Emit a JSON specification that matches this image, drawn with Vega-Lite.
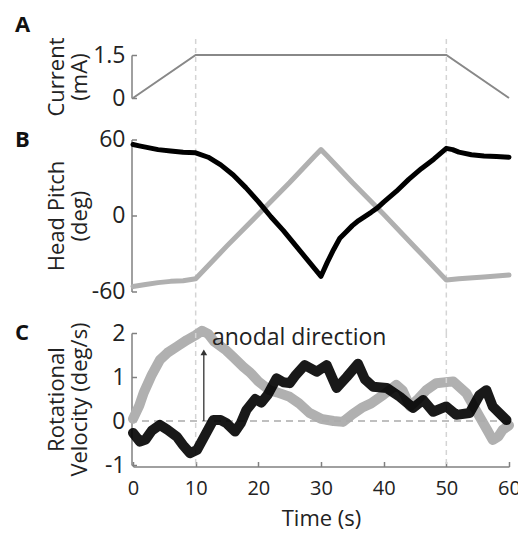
{
  "$schema": "https://vega.github.io/schema/vega-lite/v6.json",
  "padding": {"left": 15, "top": 13, "right": 5, "bottom": 8},
  "spacing": 41.5,
  "bounds": "flush",
  "config": {
    "view": {"stroke": null},
    "font": "Open Sans",
    "axis": {
      "domain": true, "ticks": true, "domainColor": "#808080", "tickColor": "#808080", "domainWidth": 1.5, "tickWidth": 1.5, "tickSize": -5, "offset": 1.5,
      "labelColor": "#222", "titleColor": "#222", "labelFont": "Open Sans", "titleFont": "Open Sans",
      "labelFontSize": 23, "titleFontSize": 22, "titleFontWeight": "normal",
      "grid": false, "labelFlush": false, "labelOverlap": false, "zindex": 2
    },
    "title": {"font": "Open Sans", "fontSize": 22, "fontWeight": "bold", "color": "#111", "anchor": "start", "frame": "group", "dx": -118}
  },
  "datasets": {
    "marks": [{"t": 10}, {"t": 50}],
    "current": [
      {"t": 0, "mA": 0}, {"t": 10, "mA": 1.5}, {"t": 50, "mA": 1.5}, {"t": 60, "mA": 0}
    ],
    "pitch": [
      {"series": "Cathodal", "t": 0, "deg": 56}, {"series": "Cathodal", "t": 1, "deg": 55}, {"series": "Cathodal", "t": 2, "deg": 54},
      {"series": "Cathodal", "t": 4, "deg": 52}, {"series": "Cathodal", "t": 6, "deg": 51}, {"series": "Cathodal", "t": 8, "deg": 50},
      {"series": "Cathodal", "t": 10, "deg": 49.5}, {"series": "Cathodal", "t": 12, "deg": 46}, {"series": "Cathodal", "t": 14, "deg": 40},
      {"series": "Cathodal", "t": 16, "deg": 32}, {"series": "Cathodal", "t": 18, "deg": 22}, {"series": "Cathodal", "t": 20, "deg": 11},
      {"series": "Cathodal", "t": 21, "deg": 5}, {"series": "Cathodal", "t": 22, "deg": -1}, {"series": "Cathodal", "t": 24, "deg": -12},
      {"series": "Cathodal", "t": 26, "deg": -24}, {"series": "Cathodal", "t": 28, "deg": -36}, {"series": "Cathodal", "t": 30, "deg": -48},
      {"series": "Cathodal", "t": 31, "deg": -37}, {"series": "Cathodal", "t": 32, "deg": -27}, {"series": "Cathodal", "t": 33, "deg": -18},
      {"series": "Cathodal", "t": 34, "deg": -13}, {"series": "Cathodal", "t": 35, "deg": -8}, {"series": "Cathodal", "t": 36, "deg": -4},
      {"series": "Cathodal", "t": 38, "deg": 2.5}, {"series": "Cathodal", "t": 39, "deg": 6}, {"series": "Cathodal", "t": 40, "deg": 10.5},
      {"series": "Cathodal", "t": 42, "deg": 19}, {"series": "Cathodal", "t": 44, "deg": 28.5}, {"series": "Cathodal", "t": 46, "deg": 37},
      {"series": "Cathodal", "t": 48, "deg": 44.5}, {"series": "Cathodal", "t": 50, "deg": 53}, {"series": "Cathodal", "t": 51, "deg": 52},
      {"series": "Cathodal", "t": 52, "deg": 50}, {"series": "Cathodal", "t": 54, "deg": 48}, {"series": "Cathodal", "t": 56, "deg": 47},
      {"series": "Cathodal", "t": 58, "deg": 46.5}, {"series": "Cathodal", "t": 60, "deg": 46},
      {"series": "Anodal", "t": 0, "deg": -56}, {"series": "Anodal", "t": 2, "deg": -54.5}, {"series": "Anodal", "t": 4, "deg": -53},
      {"series": "Anodal", "t": 6, "deg": -52}, {"series": "Anodal", "t": 8, "deg": -51.5}, {"series": "Anodal", "t": 10, "deg": -50},
      {"series": "Anodal", "t": 15, "deg": -24}, {"series": "Anodal", "t": 20, "deg": 1}, {"series": "Anodal", "t": 25, "deg": 26},
      {"series": "Anodal", "t": 29, "deg": 47}, {"series": "Anodal", "t": 30, "deg": 52}, {"series": "Anodal", "t": 31, "deg": 47},
      {"series": "Anodal", "t": 35, "deg": 26}, {"series": "Anodal", "t": 40, "deg": 1}, {"series": "Anodal", "t": 45, "deg": -25},
      {"series": "Anodal", "t": 50, "deg": -51}, {"series": "Anodal", "t": 52, "deg": -50}, {"series": "Anodal", "t": 56, "deg": -48.5},
      {"series": "Anodal", "t": 60, "deg": -47}
    ],
    "velocity": [
      {"series": "Anodal", "t": 0, "v": 0.05}, {"series": "Anodal", "t": 1, "v": 0.35}, {"series": "Anodal", "t": 1.7, "v": 0.64},
      {"series": "Anodal", "t": 3, "v": 1.05}, {"series": "Anodal", "t": 4.3, "v": 1.39}, {"series": "Anodal", "t": 5.5, "v": 1.55},
      {"series": "Anodal", "t": 7, "v": 1.69}, {"series": "Anodal", "t": 8.6, "v": 1.84}, {"series": "Anodal", "t": 10, "v": 1.95},
      {"series": "Anodal", "t": 11, "v": 2.05}, {"series": "Anodal", "t": 12, "v": 1.98}, {"series": "Anodal", "t": 13, "v": 1.8},
      {"series": "Anodal", "t": 14.9, "v": 1.6}, {"series": "Anodal", "t": 16, "v": 1.45}, {"series": "Anodal", "t": 17.6, "v": 1.23},
      {"series": "Anodal", "t": 18.7, "v": 1.1}, {"series": "Anodal", "t": 20, "v": 0.9}, {"series": "Anodal", "t": 21.8, "v": 0.7},
      {"series": "Anodal", "t": 23, "v": 0.65}, {"series": "Anodal", "t": 25, "v": 0.55}, {"series": "Anodal", "t": 26.5, "v": 0.4},
      {"series": "Anodal", "t": 28.2, "v": 0.18}, {"series": "Anodal", "t": 30, "v": 0.05}, {"series": "Anodal", "t": 32, "v": 0.0},
      {"series": "Anodal", "t": 33.5, "v": -0.02}, {"series": "Anodal", "t": 35, "v": 0.15}, {"series": "Anodal", "t": 36.5, "v": 0.3},
      {"series": "Anodal", "t": 38, "v": 0.4}, {"series": "Anodal", "t": 40, "v": 0.6}, {"series": "Anodal", "t": 42, "v": 0.82},
      {"series": "Anodal", "t": 43, "v": 0.7}, {"series": "Anodal", "t": 44.2, "v": 0.33}, {"series": "Anodal", "t": 45.5, "v": 0.5},
      {"series": "Anodal", "t": 46.8, "v": 0.7}, {"series": "Anodal", "t": 48.4, "v": 0.86}, {"series": "Anodal", "t": 51.1, "v": 0.9},
      {"series": "Anodal", "t": 53.2, "v": 0.63}, {"series": "Anodal", "t": 55.3, "v": 0.1}, {"series": "Anodal", "t": 56.5, "v": -0.2},
      {"series": "Anodal", "t": 57.4, "v": -0.43}, {"series": "Anodal", "t": 58.3, "v": -0.35}, {"series": "Anodal", "t": 59, "v": -0.2},
      {"series": "Anodal", "t": 60, "v": -0.1},
      {"series": "Cathodal", "t": 0, "v": -0.27}, {"series": "Cathodal", "t": 1.1, "v": -0.47}, {"series": "Cathodal", "t": 2, "v": -0.42},
      {"series": "Cathodal", "t": 3, "v": -0.22}, {"series": "Cathodal", "t": 4.3, "v": -0.09}, {"series": "Cathodal", "t": 5.5, "v": -0.2},
      {"series": "Cathodal", "t": 7, "v": -0.36}, {"series": "Cathodal", "t": 8, "v": -0.55}, {"series": "Cathodal", "t": 9.1, "v": -0.73},
      {"series": "Cathodal", "t": 10.2, "v": -0.66}, {"series": "Cathodal", "t": 11.2, "v": -0.4}, {"series": "Cathodal", "t": 12.8, "v": 0.02},
      {"series": "Cathodal", "t": 14, "v": 0.02}, {"series": "Cathodal", "t": 14.9, "v": -0.05}, {"series": "Cathodal", "t": 16.3, "v": -0.24},
      {"series": "Cathodal", "t": 17.2, "v": -0.05}, {"series": "Cathodal", "t": 18.1, "v": 0.25}, {"series": "Cathodal", "t": 19.5, "v": 0.5},
      {"series": "Cathodal", "t": 20.5, "v": 0.42}, {"series": "Cathodal", "t": 21.5, "v": 0.6}, {"series": "Cathodal", "t": 22.9, "v": 0.97},
      {"series": "Cathodal", "t": 24, "v": 0.88}, {"series": "Cathodal", "t": 25, "v": 0.86}, {"series": "Cathodal", "t": 26, "v": 1.05},
      {"series": "Cathodal", "t": 27.4, "v": 1.27}, {"series": "Cathodal", "t": 29.3, "v": 1.12}, {"series": "Cathodal", "t": 30.9, "v": 1.27},
      {"series": "Cathodal", "t": 32.5, "v": 0.75}, {"series": "Cathodal", "t": 34.1, "v": 1.0}, {"series": "Cathodal", "t": 35.9, "v": 1.3},
      {"series": "Cathodal", "t": 37, "v": 0.95}, {"series": "Cathodal", "t": 38.3, "v": 0.78}, {"series": "Cathodal", "t": 40.5, "v": 0.75},
      {"series": "Cathodal", "t": 42.6, "v": 0.55}, {"series": "Cathodal", "t": 44.7, "v": 0.3}, {"series": "Cathodal", "t": 46.3, "v": 0.48},
      {"series": "Cathodal", "t": 47.9, "v": 0.21}, {"series": "Cathodal", "t": 50, "v": 0.33}, {"series": "Cathodal", "t": 51.6, "v": 0.14},
      {"series": "Cathodal", "t": 53.7, "v": 0.18}, {"series": "Cathodal", "t": 55.3, "v": 0.59}, {"series": "Cathodal", "t": 56.4, "v": 0.7},
      {"series": "Cathodal", "t": 57.4, "v": 0.33}, {"series": "Cathodal", "t": 59.6, "v": 0.02}
    ]
  },
  "vconcat": [
    {
      "width": 376, "height": 43,
      "title": {"text": "A", "offset": 0},
      "layer": [
        {
          "data": {"name": "marks"},
          "mark": {"type": "rule", "color": "#d4d4d4", "strokeDash": [5, 4], "strokeWidth": 1.5},
          "encoding": {
            "x": {"field": "t", "type": "quantitative", "scale": {"domain": [0, 60], "nice": false}, "axis": null},
            "y": {"datum": 2.06, "type": "quantitative", "scale": {"domain": [0, 1.5], "nice": false},
                  "axis": {"values": [0, 1.5], "labelExpr": "datum.value == 0 ? '0' : '1.5'", "title": ["Current", "(mA)"], "titleX": -63.5, "titleLineHeight": 23, "labelPadding": 11.5}},
            "y2": {"datum": -1.45}
          }
        },
        {
          "data": {"name": "current"},
          "mark": {"type": "line", "color": "#888", "strokeWidth": 2},
          "encoding": {
            "x": {"field": "t", "type": "quantitative"},
            "y": {"field": "mA", "type": "quantitative"}
          }
        }
      ]
    },
    {
      "width": 376, "height": 152,
      "title": {"text": "B", "offset": -23},
      "layer": [
        {
          "data": {"name": "marks"},
          "mark": {"type": "rule", "color": "#d4d4d4", "strokeDash": [5, 4], "strokeWidth": 1.5},
          "encoding": {
            "x": {"field": "t", "type": "quantitative", "scale": {"domain": [0, 60], "nice": false}, "axis": null},
            "y": {"datum": 60, "type": "quantitative", "scale": {"domain": [-60, 60], "nice": false},
                  "axis": {"values": [-60, -30, 0, 30, 60], "labelExpr": "abs(datum.value) == 30 ? '' : replace(datum.label, '\u2212', '-')", "title": ["Head Pitch", "(deg)"], "titleX": -63.5, "titleLineHeight": 23, "labelPadding": 11.5}},
            "y2": {"datum": -92.8}
          }
        },
        {
          "data": {"name": "pitch"},
          "transform": [{"filter": "datum.series == 'Anodal'"}],
          "mark": {"type": "line", "color": "#b0b0b0", "strokeWidth": 5, "strokeCap": "round", "strokeJoin": "round"},
          "encoding": {
            "x": {"field": "t", "type": "quantitative"},
            "y": {"field": "deg", "type": "quantitative"}
          }
        },
        {
          "data": {"name": "pitch"},
          "transform": [{"filter": "datum.series == 'Cathodal'"}],
          "mark": {"type": "line", "color": "#000", "strokeWidth": 5, "strokeCap": "round", "strokeJoin": "round"},
          "encoding": {
            "x": {"field": "t", "type": "quantitative"},
            "y": {"field": "deg", "type": "quantitative"}
          }
        }
      ]
    },
    {
      "width": 376, "height": 132,
      "title": {"text": "C", "offset": -23},
      "layer": [
        {
          "data": {"name": "velocity"},
          "transform": [{"filter": "datum.series == 'Anodal'"}],
          "mark": {"type": "line", "color": "#b0b0b0", "strokeWidth": 10, "strokeCap": "round", "strokeJoin": "round"},
          "encoding": {
            "x": {"field": "t", "type": "quantitative", "scale": {"domain": [0, 60], "nice": false},
                  "axis": {"values": [0, 10, 20, 30, 40, 50, 60], "title": "Time (s)", "labelFontSize": 20, "labelPadding": 16.5, "titlePadding": 10}},
            "y": {"field": "v", "type": "quantitative", "scale": {"domain": [-1, 2], "nice": false},
                  "axis": {"values": [-1, 0, 1, 2], "labelExpr": "replace(datum.label, '\u2212', '-')", "title": ["Rotational", "Velocity (deg/s)"], "titleX": -63.5, "titleLineHeight": 23, "labelPadding": 11.5}}
          }
        },
        {
          "data": {"name": "marks"},
          "mark": {"type": "rule", "color": "#d4d4d4", "strokeDash": [5, 4], "strokeWidth": 1.5},
          "encoding": {
            "x": {"field": "t", "type": "quantitative"}
          }
        },
        {
          "data": {"values": [{"v": 0}]},
          "mark": {"type": "rule", "color": "#aaa", "strokeDash": [7, 5], "strokeWidth": 1.5},
          "encoding": {
            "y": {"field": "v", "type": "quantitative"}
          }
        },
        {
          "data": {"name": "velocity"},
          "transform": [{"filter": "datum.series == 'Cathodal'"}],
          "mark": {"type": "line", "color": "#000", "opacity": 0.9, "strokeWidth": 10, "strokeCap": "round", "strokeJoin": "round"},
          "encoding": {
            "x": {"field": "t", "type": "quantitative"},
            "y": {"field": "v", "type": "quantitative"}
          }
        },
        {
          "data": {"values": [{"t": 11.3, "from": 0, "to": 1.5}]},
          "mark": {"type": "rule", "color": "#333", "strokeWidth": 1.3},
          "encoding": {
            "x": {"field": "t", "type": "quantitative"},
            "y": {"field": "from", "type": "quantitative"},
            "y2": {"field": "to"}
          }
        },
        {
          "data": {"values": [{"t": 11.3, "tip": 1.56}]},
          "mark": {"type": "point", "shape": "triangle-up", "filled": true, "color": "#333", "size": 45, "opacity": 1},
          "encoding": {
            "x": {"field": "t", "type": "quantitative"},
            "y": {"field": "tip", "type": "quantitative"}
          }
        },
        {
          "data": {"values": [{"t": 12.6, "v": 1.73, "label": "anodal direction"}]},
          "mark": {"type": "text", "align": "left", "baseline": "alphabetic", "fontSize": 23, "font": "Open Sans", "color": "#222"},
          "encoding": {
            "x": {"field": "t", "type": "quantitative"},
            "y": {"field": "v", "type": "quantitative"},
            "text": {"field": "label"}
          }
        }
      ]
    }
  ]
}
